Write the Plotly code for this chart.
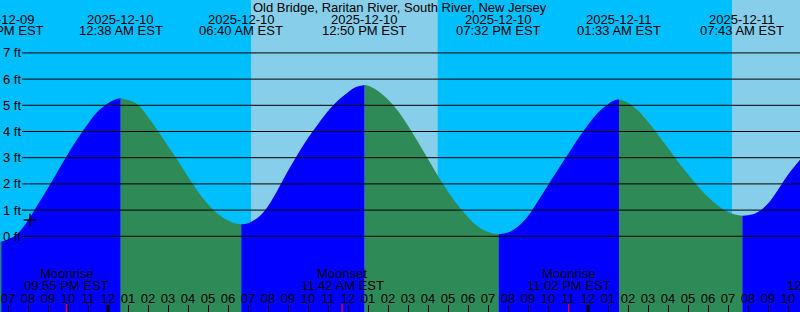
import plotly.graph_objects as go
import pandas as pd

title = "Old Bridge, Raritan River, South River, New Jersey"
x_start, x_end = "2025-12-09 18:36", "2025-12-11 10:36"
y_min, y_max = -2.89, 9.02
ft_ticks = [0, 1, 2, 3, 4, 5, 6, 7]
ft_labels = ["0 ft", "1 ft", "2 ft", "3 ft", "4 ft", "5 ft", "6 ft", "7 ft"]

# tide extremes (labels at top)
ext_times = ["2025-12-09 18:40", "2025-12-10 00:38", "2025-12-10 06:40", "2025-12-10 12:50",
             "2025-12-10 19:32", "2025-12-11 01:33", "2025-12-11 07:43"]
ext_heights = [-0.2, 5.27, 0.46, 5.78, 0.08, 5.23, 0.78]
ext_dates = ["2025-12-09", "2025-12-10", "2025-12-10", "2025-12-10", "2025-12-10", "2025-12-11", "2025-12-11"]
ext_labels = ["06:40 PM EST", "12:38 AM EST", "06:40 AM EST", "12:50 PM EST",
              "07:32 PM EST", "01:33 AM EST", "07:43 AM EST"]

# tide curve readings (time, height in ft)
curve_times = [
    "2025-12-09 18:36", "2025-12-09 18:40",
    "2025-12-09 19:00", "2025-12-09 19:30", "2025-12-09 20:00", "2025-12-09 20:30",
    "2025-12-09 21:00", "2025-12-09 21:30", "2025-12-09 22:00", "2025-12-09 22:30",
    "2025-12-09 23:00", "2025-12-09 23:30", "2025-12-10 00:00", "2025-12-10 00:23",
    "2025-12-10 00:38",
    "2025-12-10 01:00", "2025-12-10 01:30", "2025-12-10 02:00", "2025-12-10 02:30",
    "2025-12-10 03:00", "2025-12-10 03:30", "2025-12-10 04:00", "2025-12-10 04:30",
    "2025-12-10 05:00", "2025-12-10 05:30", "2025-12-10 06:00", "2025-12-10 06:20",
    "2025-12-10 06:40",
    "2025-12-10 07:00", "2025-12-10 07:30", "2025-12-10 08:00", "2025-12-10 08:30",
    "2025-12-10 09:00", "2025-12-10 09:30", "2025-12-10 10:00", "2025-12-10 10:30",
    "2025-12-10 11:00", "2025-12-10 11:30", "2025-12-10 12:00", "2025-12-10 12:24",
    "2025-12-10 12:50",
    "2025-12-10 13:00", "2025-12-10 13:30", "2025-12-10 14:00", "2025-12-10 14:30",
    "2025-12-10 15:00", "2025-12-10 15:30", "2025-12-10 16:00", "2025-12-10 16:30",
    "2025-12-10 17:00", "2025-12-10 17:30", "2025-12-10 18:00", "2025-12-10 18:30",
    "2025-12-10 19:00", "2025-12-10 19:32",
    "2025-12-10 20:00", "2025-12-10 20:30", "2025-12-10 21:00", "2025-12-10 21:30",
    "2025-12-10 22:00", "2025-12-10 22:30", "2025-12-10 23:00", "2025-12-10 23:30",
    "2025-12-11 00:00", "2025-12-11 00:30", "2025-12-11 01:00", "2025-12-11 01:18",
    "2025-12-11 01:33",
    "2025-12-11 02:00", "2025-12-11 02:30", "2025-12-11 03:00", "2025-12-11 03:30",
    "2025-12-11 04:00", "2025-12-11 04:30", "2025-12-11 05:00", "2025-12-11 05:30",
    "2025-12-11 06:00", "2025-12-11 06:30", "2025-12-11 07:00", "2025-12-11 07:24",
    "2025-12-11 07:43",
    "2025-12-11 08:00", "2025-12-11 08:30", "2025-12-11 09:00", "2025-12-11 09:30",
    "2025-12-11 10:00", "2025-12-11 10:36",
]
curve_heights = [
    -0.19, -0.2,
    -0.12, 0.12, 0.6, 1.22,
    1.84, 2.5, 3.15, 3.75,
    4.3, 4.77, 5.08, 5.23,
    5.27,
    5.2, 5.02, 4.55, 4.02,
    3.45, 2.88, 2.27, 1.7,
    1.22, 0.85, 0.6, 0.5,
    0.46,
    0.5, 0.72, 1.15, 1.8,
    2.5, 3.15, 3.75, 4.28,
    4.78, 5.18, 5.5, 5.7,
    5.78,
    5.76, 5.55, 5.22, 4.78,
    4.22, 3.6, 2.95, 2.3,
    1.7, 1.18, 0.73, 0.37,
    0.16, 0.08,
    0.14, 0.37, 0.77, 1.35,
    1.95, 2.55, 3.13, 3.72,
    4.26, 4.72, 5.04, 5.18,
    5.23,
    5.1, 4.8, 4.37, 3.88,
    3.37, 2.85, 2.37, 1.9,
    1.5, 1.17, 0.93, 0.82,
    0.78,
    0.8, 0.93, 1.25, 1.78,
    2.35, 2.92,
]

# current-time marker
now_time, now_height = "2025-12-09 20:06", 0.62

# daylight intervals
day_starts = ["2025-12-10 07:09", "2025-12-11 07:12"]
day_ends = ["2025-12-10 16:29", "2025-12-11 17:00"]

# moon events
moon_times = ["2025-12-09 21:55", "2025-12-10 11:42", "2025-12-10 23:02", "2025-12-11 12:05"]
moon_names = ["Moonrise", "Moonset", "Moonrise", "Moonset"]
moon_labels = ["09:55 PM EST", "11:42 AM EST", "11:02 PM EST", "12:05 PM EST"]

midnights = ["2025-12-10 00:00", "2025-12-11 00:00"]

NIGHT, DAY = "#00BFFF", "#87CEEB"
RISE, FALL = "#0000FF", "#2E8B57"
FONT = "Liberation Sans, Arial, sans-serif"
W, H = 800, 312

t0, t1 = pd.Timestamp(x_start), pd.Timestamp(x_end)


def frac(t):
    return (pd.Timestamp(t) - t0) / (t1 - t0)


def py(p):
    return 1 - p / H


fig = go.Figure()

# split curve into rising / falling segments at extremes
ext_set = set(ext_times)
cut_idx = [0] + [i for i, t in enumerate(curve_times) if t in ext_set and 0 < i < len(curve_times) - 1] + [len(curve_times) - 1]
for a, b in zip(cut_idx[:-1], cut_idx[1:]):
    xs = curve_times[a:b + 1]
    ys = curve_heights[a:b + 1]
    color = RISE if ys[-1] > ys[0] else FALL
    fig.add_trace(go.Scatter(x=[xs[0], xs[-1]], y=[y_min - 1, y_min - 1], mode="lines",
                             line=dict(width=0), hoverinfo="skip", showlegend=False))
    fig.add_trace(go.Scatter(x=xs, y=ys, mode="lines", line=dict(width=0, shape="spline", color=color),
                             fill="tonexty", fillcolor=color, hoverinfo="skip", showlegend=False))

fig.add_trace(go.Scatter(x=[now_time], y=[now_height], mode="markers",
                         marker=dict(symbol="cross-thin", size=9, line=dict(width=1.4, color="black")),
                         hoverinfo="skip", showlegend=False))

shapes = []
for s, e in zip(day_starts, day_ends):
    shapes.append(dict(type="rect", xref="x", yref="paper", x0=s, x1=e, y0=0, y1=1,
                       fillcolor=DAY, line=dict(width=0), layer="below"))
for v in ft_ticks:
    shapes.append(dict(type="line", xref="paper", yref="y", x0=22 / W, x1=1, y0=v, y1=v,
                       line=dict(color="black", width=1), layer="above"))
for m in midnights:
    shapes.append(dict(type="line", xref="x", yref="paper", x0=m, x1=m, y0=0, y1=7 / H,
                       line=dict(color="black", width=3), layer="above"))
for m in moon_times:
    shapes.append(dict(type="line", xref="x", yref="paper", x0=m, x1=m, y0=0, y1=8 / H,
                       line=dict(color="red", width=1.3), layer="above"))

annotations = [dict(text=title, xref="paper", yref="paper", x=0.5, y=py(7.5), showarrow=False,
                    xanchor="center", yanchor="middle", font=dict(size=13, color="black", family=FONT))]
for t, d, lab in zip(ext_times, ext_dates, ext_labels):
    for txt, yy in ((d, 19), (lab, 31)):
        annotations.append(dict(text=txt, xref="paper", yref="paper", x=frac(t), y=py(yy), showarrow=False,
                                xanchor="center", yanchor="middle",
                                font=dict(size=13, color="black", family=FONT)))
for t, nm, lab in zip(moon_times, moon_names, moon_labels):
    for txt, yy in ((nm, 273.3), (lab, 285.3)):
        annotations.append(dict(text=txt, xref="paper", yref="paper", x=frac(t), y=py(yy), showarrow=False,
                                xanchor="center", yanchor="middle",
                                font=dict(size=13, color="black", family=FONT)))

fig.update_layout(
    width=W, height=H, margin=dict(l=0, r=0, t=0, b=0),
    paper_bgcolor=NIGHT, plot_bgcolor=NIGHT,
    showlegend=False, shapes=shapes, annotations=annotations,
    font=dict(family=FONT, size=13, color="black"),
    xaxis=dict(type="date", range=[x_start, x_end], dtick=3600000, tick0="2025-12-09 00:00",
               tickformat="%I", side="top", anchor="free", position=0,
               ticks="outside", ticklen=7, tickwidth=1, tickcolor="black", ticklabelstandoff=-3,
               showgrid=False, zeroline=False, showline=False,
               tickfont=dict(size=13, color="black", family=FONT)),
    yaxis=dict(range=[y_min, y_max], tickvals=ft_ticks, ticktext=ft_labels,
               side="right", anchor="free", position=0, ticklabelstandoff=2,
               ticks="", showgrid=False, zeroline=False, showline=False,
               tickfont=dict(size=13, color="black", family=FONT)),
)

fig.write_html("out.html")
